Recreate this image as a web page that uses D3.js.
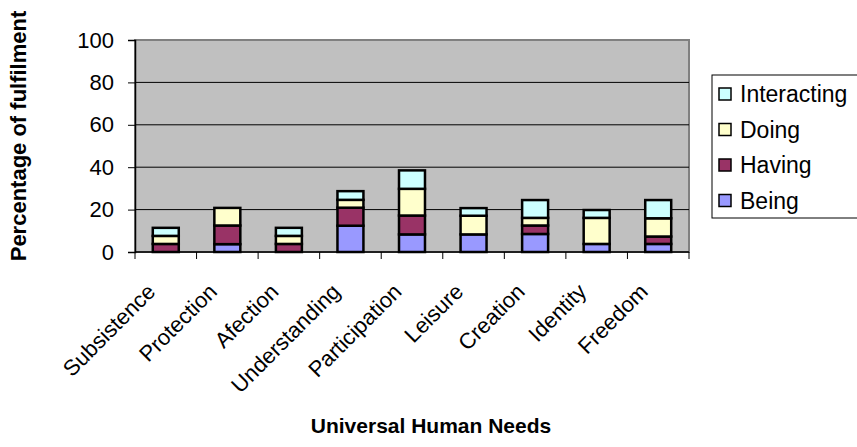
<!DOCTYPE html>
<html>
<head>
<meta charset="utf-8">
<script src="https://cdn.jsdelivr.net/npm/d3@7"></script>
<style>
  html, body { margin: 0; padding: 0; background: #ffffff; }
  svg { display: block; font-family: "Liberation Sans", Arial, sans-serif; }
</style>
</head>
<body>
<svg id="chart" width="857" height="447"></svg>
<script>
// Universal human needs, split by existential category
const needs = ["Subsistence", "Protection", "Afection", "Understanding", "Participation",
               "Leisure", "Creation", "Identity", "Freedom"];
const being       = [0,   3.7, 0,   12.4, 8.3,  8.3, 8.5, 3.8,  3.8];
const having      = [3.8, 8.8, 3.8, 8.5,  8.9,  0,   4.0, 0,    3.5];
const doing       = [3.8, 8.3, 3.8, 3.7,  12.6, 8.8, 3.6, 12.3, 8.6];
const interacting = [3.8, 0,   3.8, 4.1,  8.7,  3.6, 8.4, 3.7,  8.6];
const seriesNames = ["Being", "Having", "Doing", "Interacting"];
const seriesColors = ["#9999FF", "#993366", "#FFFFCC", "#CCFFFF"];
const yTicks = [0, 20, 40, 60, 80, 100];

const table = needs.map((n, i) => ({
  need: n, Being: being[i], Having: having[i], Doing: doing[i], Interacting: interacting[i]
}));
const stacked = d3.stack().keys(seriesNames)(table);

const svg = d3.select("#chart");
const plot = { left: 135, right: 689, top: 40, bottom: 252 };
const fontSize = 22;

const x = d3.scaleBand().domain(needs).range([plot.left, plot.right])
  .paddingInner(0.578).paddingOuter(0.289);
const xCat = d3.scaleBand().domain(needs).range([plot.left, plot.right]);
const y = d3.scaleLinear().domain([0, 100]).range([plot.bottom, plot.top]);

// plot area
svg.append("rect")
  .attr("x", plot.left).attr("y", plot.top)
  .attr("width", plot.right - plot.left).attr("height", plot.bottom - plot.top)
  .attr("fill", "#C0C0C0").attr("stroke", "#808080").attr("stroke-width", 2);

// gridlines
svg.append("g").selectAll("line").data(yTicks.filter(t => t > 0 && t < 100)).join("line")
  .attr("x1", plot.left).attr("x2", plot.right)
  .attr("y1", d => y(d)).attr("y2", d => y(d))
  .attr("stroke", "#000").attr("stroke-width", 1);

// stacked bars
svg.append("g").selectAll("g").data(stacked).join("g")
  .attr("fill", (d, i) => seriesColors[i])
  .selectAll("rect").data(d => d.filter(s => s[1] - s[0] > 0)).join("rect")
  .attr("x", d => x(d.data.need))
  .attr("width", x.bandwidth())
  .attr("y", d => y(d[1]))
  .attr("height", d => y(d[0]) - y(d[1]))
  .attr("stroke", "#000").attr("stroke-width", 2.5);

// y axis
const yAxis = svg.append("g").attr("transform", `translate(${plot.left},0)`)
  .call(d3.axisLeft(y).tickValues(yTicks).tickSize(7).tickPadding(14));
yAxis.select(".domain").attr("stroke", "#000").attr("stroke-width", 1.5);
yAxis.selectAll(".tick line").attr("stroke", "#000");
yAxis.selectAll("text").attr("font-size", fontSize).attr("fill", "#000")
  .attr("font-family", "Liberation Sans, Arial, sans-serif");

// x axis: ticks at category boundaries
const xg = svg.append("g");
xg.append("line").attr("x1", plot.left).attr("x2", plot.right)
  .attr("y1", plot.bottom).attr("y2", plot.bottom).attr("stroke", "#000").attr("stroke-width", 1.5);
const bounds = needs.map(n => xCat(n)).concat([plot.right]);
xg.selectAll(".xt").data(bounds).join("line")
  .attr("x1", d => d).attr("x2", d => d)
  .attr("y1", plot.bottom).attr("y2", plot.bottom + 7)
  .attr("stroke", "#000");
xg.selectAll(".xl").data(needs).join("text")
  .attr("transform", d => `translate(${xCat(d) + xCat.bandwidth() / 2 - 9},${plot.bottom + 41}) rotate(-45)`)
  .attr("text-anchor", "end")
  .attr("font-size", fontSize).attr("fill", "#000")
  .text(d => d);

// axis titles
svg.append("text")
  .attr("x", 431).attr("y", 433)
  .attr("text-anchor", "middle").attr("font-size", 21).attr("font-weight", "bold")
  .text("Universal Human Needs");
svg.append("text")
  .attr("transform", "translate(26,136) rotate(-90)")
  .attr("text-anchor", "middle").attr("font-size", fontSize).attr("font-weight", "bold")
  .text("Percentage of fulfilment");

// legend
const legend = svg.append("g");
legend.append("rect").attr("x", 712).attr("y", 75).attr("width", 160).attr("height", 143)
  .attr("fill", "#fff").attr("stroke", "#000").attr("stroke-width", 1);
const legendOrder = seriesNames.slice().reverse();
const li = legend.selectAll(".li").data(legendOrder).join("g")
  .attr("transform", (d, i) => `translate(719,${94 + i * 35.5})`);
li.append("rect").attr("x", 0).attr("y", -6).attr("width", 12).attr("height", 12)
  .attr("fill", d => seriesColors[seriesNames.indexOf(d)])
  .attr("stroke", "#000").attr("stroke-width", 1.5);
li.append("text").attr("x", 21).attr("y", 0).attr("dy", "0.36em")
  .attr("font-size", 23).attr("fill", "#000").text(d => d);
</script>
</body>
</html>
